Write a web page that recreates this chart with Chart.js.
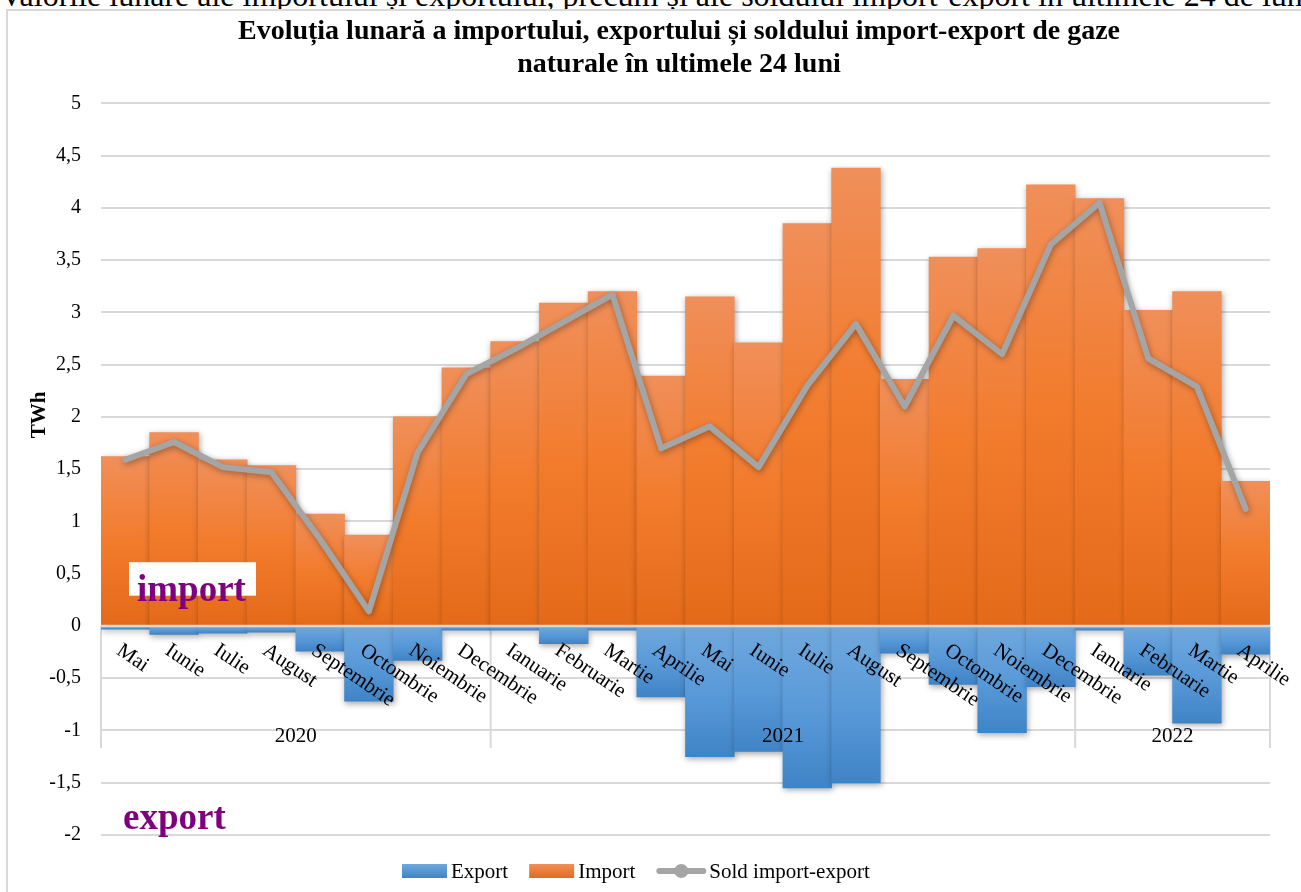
<!DOCTYPE html>
<html lang="ro">
<head>
<meta charset="utf-8">
<title>Import-export gaze naturale</title>
<script src="https://cdn.jsdelivr.net/npm/chart.js@4.4.1/dist/chart.umd.min.js"></script>
<style>
html, body { margin: 0; padding: 0; background: #fff; width: 1301px; height: 892px; overflow: hidden; }
#above { position: absolute; left: 0; top: -21px; white-space: nowrap; font: 32px/32px "Liberation Serif", "Times New Roman", serif; color: #000; }
#frame { position: absolute; left: 6px; top: 9px; width: 1400px; height: 1000px; border-left: 2px solid #d9d9d9; border-top: 2px solid #d9d9d9; background: #fff; }
#box { position: relative; width: 1342px; height: 892px; }
</style>
</head>
<body>
<div id="above">Valorile lunare ale importului și exportului, precum și ale soldului import-export în ultimele 24 de luni</div>
<div id="frame"><div id="box"><canvas id="chart"></canvas></div></div>
<script>
// luni (mai 2020 - aprilie 2022)
const months = ['Mai', 'Iunie', 'Iulie', 'August', 'Septembrie', 'Octombrie', 'Noiembrie', 'Decembrie',
  'Ianuarie', 'Februarie', 'Martie', 'Aprilie', 'Mai', 'Iunie', 'Iulie', 'August', 'Septembrie', 'Octombrie', 'Noiembrie', 'Decembrie',
  'Ianuarie', 'Februarie', 'Martie', 'Aprilie']
const years = ['2020', '2021', '2022']
const monthsPerYear = [8, 12, 4]

// TWh
const importValues = [1.62, 1.85, 1.59, 1.535, 1.07, 0.87, 2.0, 2.47,
  2.72, 3.09, 3.2, 2.39, 3.15, 2.71, 3.85, 4.38, 2.36, 3.53, 3.61, 4.22,
  4.09, 3.02, 3.2, 1.385]
const exportValues = [-0.03, -0.08, -0.07, -0.06, -0.24, -0.72, -0.33, -0.04,
  -0.04, -0.17, -0.04, -0.68, -1.25, -1.2, -1.55, -1.5, -0.26, -0.56, -1.02, -0.58,
  -0.04, -0.47, -0.93, -0.27]
const soldValues = [1.59, 1.76, 1.52, 1.47, 0.83, 0.14, 1.66, 2.41,
  2.65, 2.91, 3.17, 1.7, 1.91, 1.52, 2.3, 2.89, 2.1, 2.97, 2.6, 3.65,
  4.05, 2.56, 2.29, 1.12]

const serif = '"Liberation Serif", "Times New Roman", serif'
const orange = ['#f08f5a', '#f27b2c', '#e46a19']
const blue = ['#70a8dd', '#5a9ad9', '#3f84c6']
const grey = '#a5a5a5'
const gridGrey = '#d9d9d9'

// gradient on each bar, light at the top, dark at the bottom
function barFill(cols){
const [light, mid, dark] = cols
return function(c){
const y = c.chart.scales.y
if(!y || c.raw == null){return mid}
const a = y.getPixelForValue(c.raw)
const b = y.getPixelForValue(0)
const top = Math.min(a, b), bottom = Math.max(a, b)
if(!isFinite(top) || bottom - top < 1){return mid}
const g = c.chart.ctx.createLinearGradient(0, top, 0, bottom)
g.addColorStop(0, light)
g.addColorStop(0.5, mid)
g.addColorStop(1, dark)
return g
}
}

const shadows = {
id: 'shadows',
beforeDatasetDraw(chart){
const ctx = chart.ctx
ctx.save()
ctx.shadowColor = 'rgba(0,0,0,0.35)'
ctx.shadowBlur = 6
ctx.shadowOffsetX = 1
ctx.shadowOffsetY = 2
},
afterDatasetDraw(chart){
chart.ctx.restore()
}
}

// category axis drawn like the original: slanted month names, year groups, separators
const excelAxis = {
id: 'excelAxis',
beforeDatasetsDraw(chart){
const {ctx, scales: {x, y}} = chart
const y0 = y.getPixelForValue(0)
const half = (x.getPixelForValue(1) - x.getPixelForValue(0)) / 2
ctx.save()
ctx.strokeStyle = gridGrey
ctx.lineWidth = 2
let idx = 0
const edges = [0]
monthsPerYear.forEach(n => { idx += n; edges.push(idx) })
edges.forEach(e => {
const px = e < months.length ? x.getPixelForValue(e) - half : x.getPixelForValue(months.length - 1) + half
ctx.beginPath()
ctx.moveTo(px, y0)
ctx.lineTo(px, y0 + 122)
ctx.stroke()
})
ctx.restore()
},
afterDatasetsDraw(chart){
const {ctx, chartArea, scales: {x, y}} = chart
const y0 = y.getPixelForValue(0)
ctx.save()
ctx.strokeStyle = gridGrey
ctx.lineWidth = 2.5
ctx.beginPath()
ctx.moveTo(chartArea.left, y0)
ctx.lineTo(chartArea.right, y0)
ctx.stroke()

ctx.fillStyle = '#000'
ctx.font = '21px ' + serif
ctx.textAlign = 'left'
ctx.textBaseline = 'top'
months.forEach((m, i) => {
ctx.save()
ctx.translate(x.getPixelForValue(i) - 1, y0 + 14)
ctx.rotate(34 * Math.PI / 180)
ctx.fillText(m, 0, 0)
ctx.restore()
})

ctx.textAlign = 'center'
ctx.textBaseline = 'middle'
let start = 0
years.forEach((yr, k) => {
const end = start + monthsPerYear[k] - 1
const cx = (x.getPixelForValue(start) + x.getPixelForValue(end)) / 2
ctx.fillText(yr, cx, y0 + 111)
start = end + 1
})

// labels "import" / "export"
ctx.fillStyle = '#fff'
const bTop = y.getPixelForValue(0.61)
ctx.fillRect(chartArea.left + 28, bTop, 127, y.getPixelForValue(0.29) - bTop)
ctx.fillStyle = '#7f007f'
ctx.font = 'bold 37px ' + serif
ctx.textAlign = 'left'
ctx.textBaseline = 'alphabetic'
ctx.fillText('import', chartArea.left + 36, y.getPixelForValue(0.24))
ctx.fillText('export', chartArea.left + 22, y.getPixelForValue(-1.94))
ctx.restore()
},
afterDraw(chart){
const {ctx, chartArea, scales: {y}} = chart
ctx.save()
// axis title
ctx.translate(32, y.getPixelForValue(2.02))
ctx.rotate(-Math.PI / 2)
ctx.font = 'bold 21px ' + serif
ctx.fillStyle = '#000'
ctx.textAlign = 'center'
ctx.textBaseline = 'middle'
ctx.fillText('TWh', 0, 0)
ctx.restore()

// legend
ctx.save()
ctx.font = '21px ' + serif
ctx.textBaseline = 'middle'
ctx.textAlign = 'left'
const cy = chart.height - 32
let lx = chartArea.left + 301
const items = [
{text: 'Export', cols: blue},
{text: 'Import', cols: orange},
{text: 'Sold import-export', line: true}
]
items.forEach(it => {
if(it.line){
ctx.strokeStyle = grey
ctx.lineWidth = 6
ctx.lineCap = 'round'
ctx.beginPath()
ctx.moveTo(lx + 3, cy)
ctx.lineTo(lx + 47, cy)
ctx.stroke()
ctx.fillStyle = grey
ctx.beginPath()
ctx.arc(lx + 25, cy, 7, 0, Math.PI * 2)
ctx.fill()
lx += 53
} else {
const g = ctx.createLinearGradient(0, cy - 7, 0, cy + 7)
g.addColorStop(0, it.cols[0])
g.addColorStop(1, it.cols[2])
ctx.fillStyle = g
ctx.fillRect(lx, cy - 7, 45, 14)
lx += 49
}
ctx.fillStyle = '#000'
ctx.fillText(it.text, lx, cy + 1)
lx += ctx.measureText(it.text).width + 21
})
ctx.restore()
}
}

const chart = new Chart(document.getElementById('chart'), {
type: 'bar',
data: {
labels: months,
datasets: [
{
label: 'Export',
data: exportValues,
backgroundColor: barFill(blue),
categoryPercentage: 1,
barPercentage: 1,
order: 1
},
{
label: 'Import',
data: importValues,
backgroundColor: barFill(orange),
categoryPercentage: 1,
barPercentage: 1,
order: 2
},
{
type: 'line',
label: 'Sold import-export',
data: soldValues,
borderColor: grey,
borderWidth: 6,
borderJoinStyle: 'round',
borderCapStyle: 'round',
pointRadius: 0,
tension: 0,
fill: false,
order: 0
}
]
},
options: {
responsive: true,
maintainAspectRatio: false,
animation: false,
layout: {padding: {left: 0, right: 0, top: 0, bottom: 68}},
plugins: {
legend: {display: false},
tooltip: {enabled: false},
title: {
display: true,
text: ['Evoluția lunară a importului, exportului și soldului import-export de gaze', 'naturale în ultimele 24 luni'],
color: '#000',
font: {family: serif, size: 28, weight: 'bold', lineHeight: 1.15},
padding: {top: 5, bottom: 23}
}
},
scales: {
x: {
display: false,
stacked: true,
offset: true
},
y: {
min: -2,
max: 5,
ticks: {
stepSize: 0.5,
padding: 20,
color: '#000',
font: {family: serif, size: 20},
callback: v => String(v).replace('.', ',')
},
grid: {color: gridGrey, lineWidth: 2, drawTicks: false},
border: {display: false},
afterFit(s){ s.width = 93 }
},
spare: {
type: 'linear',
position: 'right',
grid: {display: false},
ticks: {display: false},
border: {display: false},
afterFit(s){ s.width = 80 }
}
}
},
plugins: [shadows, excelAxis]
})
</script>
</body>
</html>
